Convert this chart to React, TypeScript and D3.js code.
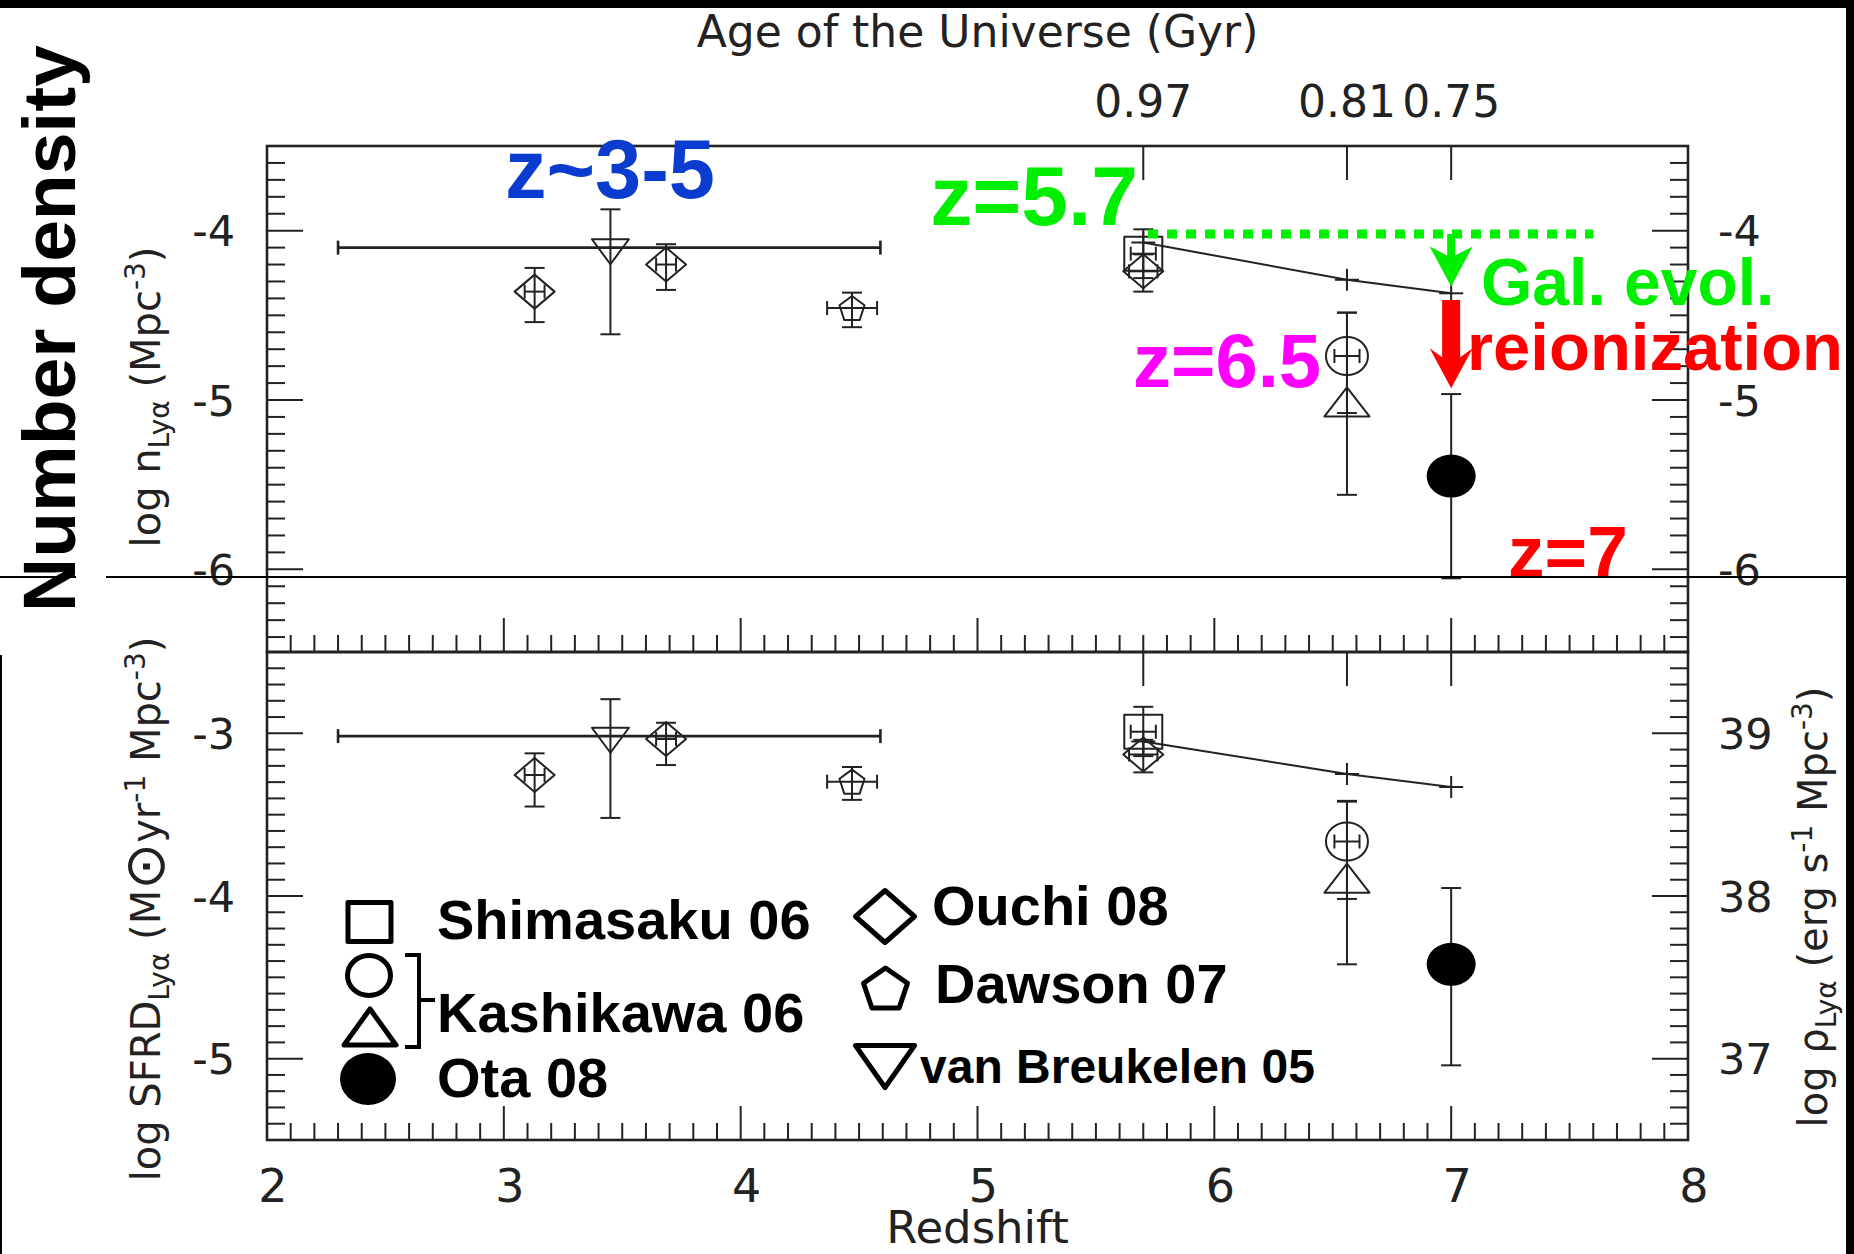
import React, { useEffect } from "react";
import * as d3 from "d3";

// ---------- axes ----------
const redshiftTicks = [2, 3, 4, 5, 6, 7, 8];
const ageTickZ = [5.7, 6.56, 7.0];
const ageTickLabels = ["0.97", "0.81", "0.75"];
const logNTicks = [-4, -5, -6];
const logNTickLabels = ["-4", "-5", "-6"];
const sfrdTicks = [-3, -4, -5];
const sfrdTickLabels = ["-3", "-4", "-5"];
const rhoTickLabels = ["39", "38", "37"];

// ---------- measurements ----------
// Ouchi 08
const ouchiZ = [3.13, 3.685, 5.7];
const ouchiZLo = [3.088, 3.643, 5.64];
const ouchiZHi = [3.172, 3.727, 5.76];
const ouchiLogN = [-4.36, -4.2, -4.24];
const ouchiLogNHi = [0.14, 0.12, 0.1];
const ouchiLogNLo = [0.18, 0.15, 0.12];
const ouchiSFRD = [-3.256, -3.035, -3.13];
const ouchiSFRDHi = [0.133, 0.1, 0.09];
const ouchiSFRDLo = [0.194, 0.16, 0.11];

// van Breukelen 05
const vbZ = [3.45];
const vbZLo = [2.3];
const vbZHi = [4.59];
const vbLogN = [-4.1];
const vbLogNHi = [0.226];
const vbLogNLo = [0.512];
const vbSFRD = [-3.017];
const vbSFRDHi = [0.227];
const vbSFRDLo = [0.503];

// Dawson 07
const dawsonZ = [4.47];
const dawsonZLo = [4.365];
const dawsonZHi = [4.576];
const dawsonLogN = [-4.457];
const dawsonLogNHi = [0.091];
const dawsonLogNLo = [0.113];
const dawsonSFRD = [-3.297];
const dawsonSFRDHi = [0.09];
const dawsonSFRDLo = [0.112];

// Shimasaku 06
const shimaZ = [5.7];
const shimaZLo = [5.647];
const shimaZHi = [5.753];
const shimaLogN = [-4.136];
const shimaLogNHi = [0.144];
const shimaLogNLo = [0.144];
const shimaSFRD = [-2.99];
const shimaSFRDHi = [0.153];
const shimaSFRDLo = [0.15];

// Kashikawa 06 (circle and triangle)
const kashCircZ = [6.56];
const kashCircZLo = [6.507];
const kashCircZHi = [6.613];
const kashCircLogN = [-4.74];
const kashCircLogNHi = [0.256];
const kashCircLogNLo = [0.337];
const kashCircSFRD = [-3.665];
const kashCircSFRDHi = [0.25];
const kashCircSFRDLo = [0.353];

const kashTriZ = [6.56];
const kashTriLogN = [-5.04];
const kashTriLogNHi = [0.556];
const kashTriLogNLo = [0.52];
const kashTriSFRD = [-3.92];
const kashTriSFRDHi = [0.5];
const kashTriSFRDLo = [0.5];

// Ota 08
const otaZ = [7.0];
const otaLogN = [-5.449];
const otaLogNHi = [0.484];
const otaLogNLo = [0.604];
const otaSFRD = [-4.42];
const otaSFRDHi = [0.469];
const otaSFRDLo = [0.621];

// pure galaxy-evolution expectation
const modelZ = [5.7, 6.56, 7.0];
const modelLogN = [-4.07, -4.29, -4.37];
const modelSFRD = [-3.05, -3.25, -3.33];

// annotations (redshift, log n)
const noteText = ["z~3-5", "z=5.7", "Gal. evol.", "reionization", "z=6.5", "z=7"];
const noteZ = [3.005, 4.8, 7.126, 7.067, 5.657, 7.24];
const noteLogN = [-3.807, -3.967, -4.439, -4.823, -4.923, -6.045];
const guideZ = [5.72, 7.6];
const guideLogN = -4.02;
const galArrowLogN = [-4.02, -4.33];
const reionArrowLogN = [-4.41, -4.93];

// legend
const legendLeftNames = ["Shimasaku 06", "Kashikawa 06", "Ota 08"];
const legendRightNames = ["Ouchi 08", "Dawson 07", "van Breukelen 05"];

// ---------- layout / style ----------
const W = 1854;
const H = 1254;
const X0 = 267;
const X1 = 1688;
const YT = 146;
const YM = 652;
const YB = 1140;
const INK = "#222";
const AXF = "'DejaVu Sans', Verdana, sans-serif";
const BF = "'Liberation Sans', Arial, Helvetica, sans-serif";
const noteColor = ["#0a3ccf", "#00ee00", "#00ee00", "#ff0000", "#ff00ff", "#ff0000"];
const noteSize = [83, 84, 66, 67, 76, 73];

const markerSize = {
  diamond: { w: 40, h: 34 },
  square: { w: 38, h: 34 },
  circle: { w: 42, h: 38 },
  triUp: { w: 45, h: 29 },
  triDown: { w: 37, h: 25 },
  pentagon: { w: 25, h: 24 },
  dot: { w: 49, h: 43 },
};

function shapePath(shape, cx, cy, w, h) {
  const hw = w / 2;
  const hh = h / 2;
  switch (shape) {
    case "diamond":
      return `M${cx},${cy - hh}L${cx + hw},${cy}L${cx},${cy + hh}L${cx - hw},${cy}Z`;
    case "square":
      return `M${cx - hw},${cy - hh}H${cx + hw}V${cy + hh}H${cx - hw}Z`;
    case "triUp":
      return `M${cx},${cy - (2 * h) / 3}L${cx + hw},${cy + h / 3}L${cx - hw},${cy + h / 3}Z`;
    case "triDown":
      return `M${cx - hw},${cy - h / 3}L${cx + hw},${cy - h / 3}L${cx},${cy + (2 * h) / 3}Z`;
    case "pentagon": {
      const rx = w / 1.902;
      const ry = h / 1.809;
      const cyc = cy - h / 2 + ry;
      const pts = d3.range(5).map((k) => {
        const a = -Math.PI / 2 + (k * 2 * Math.PI) / 5;
        return [cx + rx * Math.cos(a), cyc + ry * Math.sin(a)];
      });
      return "M" + pts.map((p) => p.join(",")).join("L") + "Z";
    }
    default:
      return "";
  }
}

function Marker({ shape, cx, cy, w, h, sw }) {
  if (shape === "circle")
    return <ellipse cx={cx} cy={cy} rx={w / 2} ry={h / 2} fill="none" stroke={INK} strokeWidth={sw} />;
  if (shape === "dot") return <ellipse cx={cx} cy={cy} rx={w / 2} ry={h / 2} fill="#000" />;
  return <path d={shapePath(shape, cx, cy, w, h)} fill="none" stroke={INK} strokeWidth={sw} strokeLinejoin="round" />;
}

export default function App() {
  useEffect(() => {
    document.body.style.margin = "0";
  }, []);

  const x = d3.scaleLinear().domain([2, 8]).range([X0, X1]);
  const yN = d3.scaleLinear().domain([-6.5, -3.5]).range([654, YT]);
  const yS = d3.scaleLinear().domain([-5.5, -2.5]).range([YB, YM]);

  const surveys = [
    { shape: "diamond", z: ouchiZ, zLo: ouchiZLo, zHi: ouchiZHi, n: ouchiLogN, nHi: ouchiLogNHi, nLo: ouchiLogNLo, s: ouchiSFRD, sHi: ouchiSFRDHi, sLo: ouchiSFRDLo },
    { shape: "triDown", z: vbZ, zLo: vbZLo, zHi: vbZHi, n: vbLogN, nHi: vbLogNHi, nLo: vbLogNLo, s: vbSFRD, sHi: vbSFRDHi, sLo: vbSFRDLo },
    { shape: "pentagon", z: dawsonZ, zLo: dawsonZLo, zHi: dawsonZHi, n: dawsonLogN, nHi: dawsonLogNHi, nLo: dawsonLogNLo, s: dawsonSFRD, sHi: dawsonSFRDHi, sLo: dawsonSFRDLo },
    { shape: "square", z: shimaZ, zLo: shimaZLo, zHi: shimaZHi, n: shimaLogN, nHi: shimaLogNHi, nLo: shimaLogNLo, s: shimaSFRD, sHi: shimaSFRDHi, sLo: shimaSFRDLo },
    { shape: "circle", z: kashCircZ, zLo: kashCircZLo, zHi: kashCircZHi, n: kashCircLogN, nHi: kashCircLogNHi, nLo: kashCircLogNLo, s: kashCircSFRD, sHi: kashCircSFRDHi, sLo: kashCircSFRDLo },
    { shape: "triUp", z: kashTriZ, zLo: null, zHi: null, n: kashTriLogN, nHi: kashTriLogNHi, nLo: kashTriLogNLo, s: kashTriSFRD, sHi: kashTriSFRDHi, sLo: kashTriSFRDLo },
    { shape: "dot", z: otaZ, zLo: null, zHi: null, n: otaLogN, nHi: otaLogNHi, nLo: otaLogNLo, s: otaSFRD, sHi: otaSFRDHi, sLo: otaSFRDLo },
  ];

  const panels = [
    { id: "n", y: yN, top: YT, bottom: YM, key: "n", model: modelLogN, minor: d3.range(-64, -35).map((i) => i / 10), major: logNTicks, leftLab: logNTickLabels, rightLab: logNTickLabels },
    { id: "s", y: yS, top: YM, bottom: YB, key: "s", model: modelSFRD, minor: d3.range(-54, -25).map((i) => i / 10), major: sfrdTicks, leftLab: sfrdTickLabels, rightLab: rhoTickLabels },
  ];

  const xMinor = d3.range(21, 80).map((i) => i / 10);

  const modelLine = (yy, vals) =>
    d3.line()(modelZ.map((z, i) => [x(z), yy(vals[i])]));

  const arrow = (z, v0, v1, color, shaftW) => {
    const cx = x(z);
    const ya = yN(v0);
    const tip = yN(v1);
    const headH = 40;
    const notch = 9;
    const wing = 21.5;
    const yb = tip - headH;
    const sh = shaftW / 2;
    const d = `M${cx - sh},${ya}L${cx + sh},${ya}L${cx + sh},${yb + notch}L${cx + wing},${yb}L${cx},${tip}L${cx - wing},${yb}L${cx - sh},${yb + notch}Z`;
    return <path d={d} fill={color} />;
  };

  return (
    <svg width={W} height={H} viewBox={`0 0 ${W} ${H}`} style={{ position: "absolute", left: 0, top: 0, display: "block" }}>
      <rect x={0} y={0} width={W} height={H} fill="#fff" />

      {/* top axis title and age labels */}
      <text x={(X0 + X1) / 2} y={47} textAnchor="middle" fontFamily={AXF} fontSize={44} fill={INK}>
        Age of the Universe (Gyr)
      </text>
      {ageTickZ.map((z, i) => (
        <text key={"age" + i} x={x(z)} y={116.5} textAnchor="middle" fontFamily={AXF} fontSize={44} fill={INK}>
          {ageTickLabels[i]}
        </text>
      ))}

      {panels.map((p) => (
        <g key={p.id}>
          {/* frame */}
          <rect x={X0} y={p.top} width={X1 - X0} height={p.bottom - p.top} fill="none" stroke={INK} strokeWidth={2.6} />
          {/* age ticks on the top edge */}
          {ageTickZ.map((z, i) => (
            <line key={"at" + i} x1={x(z)} x2={x(z)} y1={p.top} y2={p.top + 34} stroke={INK} strokeWidth={2} />
          ))}
          {/* redshift ticks on the bottom edge */}
          {xMinor.map((v, i) => {
            const major = Math.abs(v - Math.round(v)) < 1e-6;
            return (
              <line key={"xt" + i} x1={x(v)} x2={x(v)} y1={p.bottom} y2={p.bottom - (major ? 34 : 17)} stroke={INK} strokeWidth={2} />
            );
          })}
          {/* y ticks on both sides */}
          {p.minor.map((v, i) => {
            const major = Math.abs(v - Math.round(v)) < 1e-6;
            const len = major ? 36 : 18;
            const yy = p.y(v);
            return (
              <g key={"yt" + i}>
                <line x1={X0} x2={X0 + len} y1={yy} y2={yy} stroke={INK} strokeWidth={2} />
                <line x1={X1} x2={X1 - len} y1={yy} y2={yy} stroke={INK} strokeWidth={2} />
              </g>
            );
          })}
          {p.major.map((v, i) => (
            <g key={"yl" + i}>
              <text x={235} y={p.y(v) + 15.5} textAnchor="end" fontFamily={AXF} fontSize={43} fill={INK}>
                {p.leftLab[i]}
              </text>
              <text x={1718} y={p.y(v) + 15.5} textAnchor="start" fontFamily={AXF} fontSize={43} fill={INK}>
                {p.rightLab[i]}
              </text>
            </g>
          ))}

          {/* expected decline from galaxy evolution alone */}
          <path d={modelLine(p.y, p.model)} fill="none" stroke={INK} strokeWidth={2} />
          {modelZ.map((z, i) => (
            <g key={"pm" + i} stroke={INK} strokeWidth={2}>
              <line x1={x(z) - 12} x2={x(z) + 12} y1={p.y(p.model[i])} y2={p.y(p.model[i])} />
              <line x1={x(z)} x2={x(z)} y1={p.y(p.model[i]) - 11} y2={p.y(p.model[i]) + 11} />
            </g>
          ))}

          {/* measurements */}
          {surveys.map((s, si) =>
            s.z.map((z, i) => {
              const v = s[p.key][i];
              const hi = s[p.key + "Hi"][i];
              const lo = s[p.key + "Lo"][i];
              const cx = x(z);
              const cy = p.y(v);
              const yHi = p.y(v + hi);
              const yLo = p.y(v - lo);
              const m = markerSize[s.shape];
              return (
                <g key={"pt" + si + "_" + i}>
                  <g stroke={INK} strokeWidth={2}>
                    <line x1={cx} x2={cx} y1={yHi} y2={yLo} />
                    <line x1={cx - 10} x2={cx + 10} y1={yHi} y2={yHi} />
                    <line x1={cx - 10} x2={cx + 10} y1={yLo} y2={yLo} />
                    {s.zLo && (
                      <g strokeWidth={s.shape === "triDown" ? 2.6 : 2}>
                        <line x1={x(s.zLo[i])} x2={x(s.zHi[i])} y1={cy} y2={cy} />
                        <line x1={x(s.zLo[i])} x2={x(s.zLo[i])} y1={cy - 7} y2={cy + 7} />
                        <line x1={x(s.zHi[i])} x2={x(s.zHi[i])} y1={cy - 7} y2={cy + 7} />
                      </g>
                    )}
                  </g>
                  <Marker shape={s.shape} cx={cx} cy={cy} w={m.w} h={m.h} sw={2} />
                </g>
              );
            })
          )}
        </g>
      ))}

      {/* bottom axis labels */}
      {redshiftTicks.map((z) => (
        <text key={"zl" + z} x={x(z) + 6} y={1202} textAnchor="middle" fontFamily={AXF} fontSize={46} fill={INK}>
          {z}
        </text>
      ))}
      <text x={(X0 + X1) / 2} y={1243} textAnchor="middle" fontFamily={AXF} fontSize={45} fill={INK}>
        Redshift
      </text>

      {/* y axis titles */}
      <text transform="translate(160,397) rotate(-90)" textAnchor="middle" fontFamily={AXF} fontSize={40} fill={INK}>
        log n
        <tspan dy={9} fontSize={28}>Lyα</tspan>
        <tspan dy={-9}>{" (Mpc"}</tspan>
        <tspan dy={-15} fontSize={28}>-3</tspan>
        <tspan dy={15}>)</tspan>
      </text>
      <text transform="translate(160,909) rotate(-90)" textAnchor="middle" fontFamily={AXF} fontSize={40} fill={INK}>
        log SFRD
        <tspan dy={9} fontSize={28}>Lyα</tspan>
        <tspan dy={-9}>{" (M"}</tspan>
        <tspan fontSize={56} dy={4}>⊙</tspan>
        <tspan dy={-4}>yr</tspan>
        <tspan dy={-15} fontSize={28}>-1</tspan>
        <tspan dy={15}>{" Mpc"}</tspan>
        <tspan dy={-15} fontSize={28}>-3</tspan>
        <tspan dy={15}>)</tspan>
      </text>
      <text transform="translate(1827,907) rotate(-90)" textAnchor="middle" fontFamily={AXF} fontSize={40} fill={INK}>
        log ρ
        <tspan dy={9} fontSize={28}>Lyα</tspan>
        <tspan dy={-9}>{" (erg s"}</tspan>
        <tspan dy={-15} fontSize={28}>-1</tspan>
        <tspan dy={15}>{" Mpc"}</tspan>
        <tspan dy={-15} fontSize={28}>-3</tspan>
        <tspan dy={15}>)</tspan>
      </text>

      {/* legend */}
      <g>
        <path d={shapePath("square", 369.5, 922, 43, 39)} fill="none" stroke="#000" strokeWidth={5} strokeLinejoin="round" />
        <ellipse cx={369} cy={975.5} rx={21.5} ry={20} fill="none" stroke="#000" strokeWidth={5} />
        <path d={shapePath("triUp", 370, 1033, 52, 36)} fill="none" stroke="#000" strokeWidth={5} strokeLinejoin="round" />
        <ellipse cx={368} cy={1079} rx={28} ry={26} fill="#000" />
        <path d="M405,955H419V1047H405M419,1000H435" fill="none" stroke="#000" strokeWidth={4} />
        {legendLeftNames.map((nm, i) => (
          <text key={nm} x={437} y={[939, 1032, 1097][i]} fontFamily={BF} fontWeight="bold" fontSize={56} fill="#000">
            {nm}
          </text>
        ))}
        <path d={shapePath("diamond", 885, 916.5, 59, 52)} fill="none" stroke="#000" strokeWidth={5} strokeLinejoin="round" />
        <path d={shapePath("pentagon", 885.5, 988, 44, 40)} fill="none" stroke="#000" strokeWidth={5} strokeLinejoin="round" />
        <path d={shapePath("triDown", 885, 1059.5, 59, 42)} fill="none" stroke="#000" strokeWidth={5} strokeLinejoin="round" />
        {legendRightNames.map((nm, i) => (
          <text key={nm} x={[932, 935, 920][i]} y={[925, 1003, 1083][i]} fontFamily={BF} fontWeight="bold" fontSize={i === 2 ? 48 : 56} fill="#000">
            {nm}
          </text>
        ))}
      </g>

      {/* annotations */}
      <line x1={x(guideZ[0])} x2={x(guideZ[1])} y1={yN(guideLogN)} y2={yN(guideLogN)} stroke="#00ee00" strokeWidth={9} strokeDasharray="10 9" />
      {arrow(7.0, galArrowLogN[0], galArrowLogN[1], "#00ee00", 8)}
      {arrow(7.0, reionArrowLogN[0], reionArrowLogN[1], "#ff0000", 18)}
      {noteText.map((t, i) => (
        <text key={t} x={x(noteZ[i])} y={yN(noteLogN[i])} fontFamily={BF} fontWeight="bold" fontSize={noteSize[i]} fill={noteColor[i]}>
          {t}
        </text>
      ))}

      {/* side label */}
      <text transform="translate(75,328.5) rotate(-90)" textAnchor="middle" fontFamily={BF} fontWeight="bold" fontSize={75} fill="#000">
        Number density
      </text>

      {/* page borders */}
      <line x1={0} x2={76} y1={577} y2={577} stroke="#000" strokeWidth={2} />
      <line x1={106} x2={1846} y1={577} y2={577} stroke="#000" strokeWidth={2} />
      <rect x={0} y={0} width={W} height={8} fill="#000" />
      <rect x={1846} y={0} width={8} height={H} fill="#000" />
      <rect x={0} y={655} width={2} height={H - 655} fill="#000" />
    </svg>
  );
}
